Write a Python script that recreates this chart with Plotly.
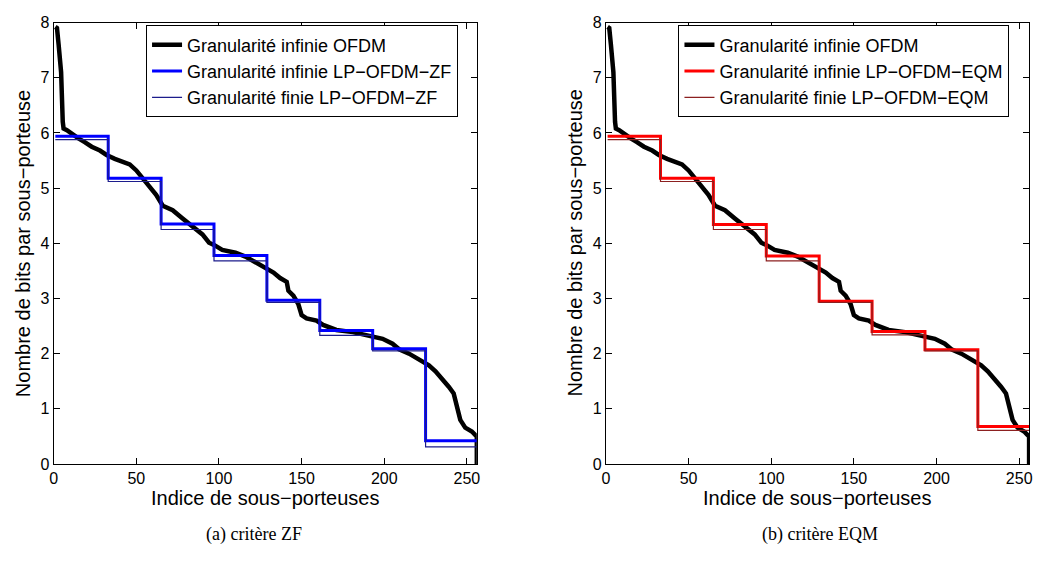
import plotly.graph_objects as go

# ---------------- data ----------------
ofdm_idx = [1, 2, 3, 4.5, 5.5, 6, 8, 11, 15, 19, 23, 28, 32, 37, 42, 46, 50, 54, 58, 62,
            66, 72, 78, 84, 90, 94, 97, 102, 110, 116, 122, 128, 133, 137, 141, 142, 145,
            148, 150, 153, 159, 163, 171, 181, 191, 199, 205, 209, 215, 221, 227, 231,
            235, 239, 242, 244, 246, 249, 253, 255, 256, 256]
ofdm_bits = [7.92, 7.90, 7.6, 7.1, 6.2, 6.08, 6.05, 5.98, 5.90, 5.83, 5.75, 5.68, 5.60,
             5.53, 5.47, 5.43, 5.32, 5.17, 5.05, 4.88, 4.68, 4.60, 4.45, 4.31, 4.16, 4.01,
             3.97, 3.88, 3.83, 3.76, 3.66, 3.55, 3.47, 3.37, 3.30, 3.14, 3.05, 2.90, 2.70,
             2.64, 2.60, 2.52, 2.43, 2.39, 2.33, 2.27, 2.18, 2.08, 2.00, 1.90, 1.79, 1.68,
             1.55, 1.40, 1.28, 1.05, 0.80, 0.66, 0.59, 0.53, 0.50, 0.0]

block_edges = [1, 33, 65, 97, 129, 161, 193, 225, 256]

zf_inf = [5.94, 5.18, 4.35, 3.78, 2.97, 2.42, 2.09, 0.42]
zf_fin = [5.88, 5.12, 4.25, 3.68, 2.93, 2.33, 2.05, 0.31]
eqm_inf = [5.94, 5.18, 4.34, 3.77, 2.95, 2.40, 2.07, 0.68]
eqm_fin = [5.88, 5.12, 4.25, 3.68, 2.93, 2.34, 2.05, 0.61]

x_ticks = [0, 50, 100, 150, 200, 250]
y_ticks = [0, 1, 2, 3, 4, 5, 6, 7, 8]

names_left = ["Granularité infinie OFDM", "Granularité infinie LP−OFDM−ZF",
              "Granularité finie LP−OFDM−ZF"]
names_right = ["Granularité infinie OFDM", "Granularité infinie LP−OFDM−EQM",
               "Granularité finie LP−OFDM−EQM"]
captions = ["(a) critère ZF", "(b) critère EQM"]
x_title = "Indice de sous−porteuses"
y_title = "Nombre de bits par sous−porteuse"

# ---------------- figure ----------------
W, H = 1047, 572
SANS = "Liberation Sans, Arial, sans-serif"
SERIF = "Liberation Serif, Times New Roman, serif"


def xp(px):
    return px / W


def yp(py):
    return 1 - py / H


def steps(levels):
    return levels + [levels[-1]]


fig = go.Figure()

panels = [
    dict(xa="x", ya="y", leg="legend", names=names_left, inf=zf_inf, fin=zf_fin,
         c_inf="#0000ff", c_fin="#1c1c8c"),
    dict(xa="x2", ya="y2", leg="legend2", names=names_right, inf=eqm_inf, fin=eqm_fin,
         c_inf="#ff0000", c_fin="#8c2020"),
]

for p in panels:
    fig.add_trace(go.Scatter(x=ofdm_idx, y=ofdm_bits, mode="lines", name=p["names"][0],
                             line=dict(color="black", width=4.5), xaxis=p["xa"], yaxis=p["ya"],
                             legend=p["leg"], hoverinfo="skip"))
    fig.add_trace(go.Scatter(x=block_edges, y=steps(p["inf"]), mode="lines", name=p["names"][1],
                             line=dict(color=p["c_inf"], width=3, shape="hv"),
                             xaxis=p["xa"], yaxis=p["ya"], legend=p["leg"], hoverinfo="skip"))
    fig.add_trace(go.Scatter(x=block_edges, y=steps(p["fin"]), mode="lines", name=p["names"][2],
                             line=dict(color=p["c_fin"], width=1.2, shape="hv"),
                             xaxis=p["xa"], yaxis=p["ya"], legend=p["leg"], hoverinfo="skip"))

left_dom = [xp(50), xp(476)]
right_dom = [xp(606), xp(1032)]
y_dom = [yp(470), yp(15)]

axis_common = dict(showline=True, linecolor="black", linewidth=1, mirror="ticks",
                   ticks="inside", ticklen=6, tickcolor="black", showgrid=False,
                   zeroline=False, tickfont=dict(family=SANS, size=16, color="black"))

leg_common = dict(xanchor="left", yanchor="top", bordercolor="black", borderwidth=1,
                  bgcolor="white", font=dict(family=SANS, size=18, color="black"),
                  tracegroupgap=0)

fig.update_layout(
    width=W, height=H,
    margin=dict(l=0, r=0, t=0, b=0),
    paper_bgcolor="white", plot_bgcolor="white",
    xaxis=dict(domain=left_dom, anchor="y", range=[0, 256], tickvals=x_ticks, **axis_common),
    yaxis=dict(domain=y_dom, anchor="x", range=[0, 8], tickvals=y_ticks, **axis_common),
    xaxis2=dict(domain=right_dom, anchor="y2", range=[0, 256], tickvals=x_ticks, **axis_common),
    yaxis2=dict(domain=y_dom, anchor="x2", range=[0, 8], tickvals=y_ticks, **axis_common),
    legend=dict(x=xp(143), y=yp(18), **leg_common),
    legend2=dict(x=xp(679), y=yp(18), **leg_common),
    showlegend=True,
)

title_font = dict(family=SANS, size=20, color="black")
for cx, yx in [((50 + 476) / 2, 19), ((606 + 1032) / 2, 575)]:
    fig.add_annotation(text=x_title, x=xp(cx), y=yp(505), xref="paper", yref="paper",
                       showarrow=False, xanchor="center", yanchor="middle", font=title_font)
    fig.add_annotation(text=y_title, x=xp(yx), y=yp(242.5), xref="paper", yref="paper",
                       showarrow=False, xanchor="center", yanchor="middle", textangle=-90,
                       font=title_font)

for cap, cx in zip(captions, [252, 821]):
    fig.add_annotation(text=cap, x=xp(cx), y=yp(543), xref="paper", yref="paper",
                       showarrow=False, xanchor="center", yanchor="middle",
                       font=dict(family=SERIF, size=18, color="black"))

# remove the browser's default 8px body margin so the figure sits at the page origin
fig.write_html("out.html",
               config={"displayModeBar": False},
               post_script="document.body.style.margin='0px';"
                           "document.body.style.overflow='hidden';")
